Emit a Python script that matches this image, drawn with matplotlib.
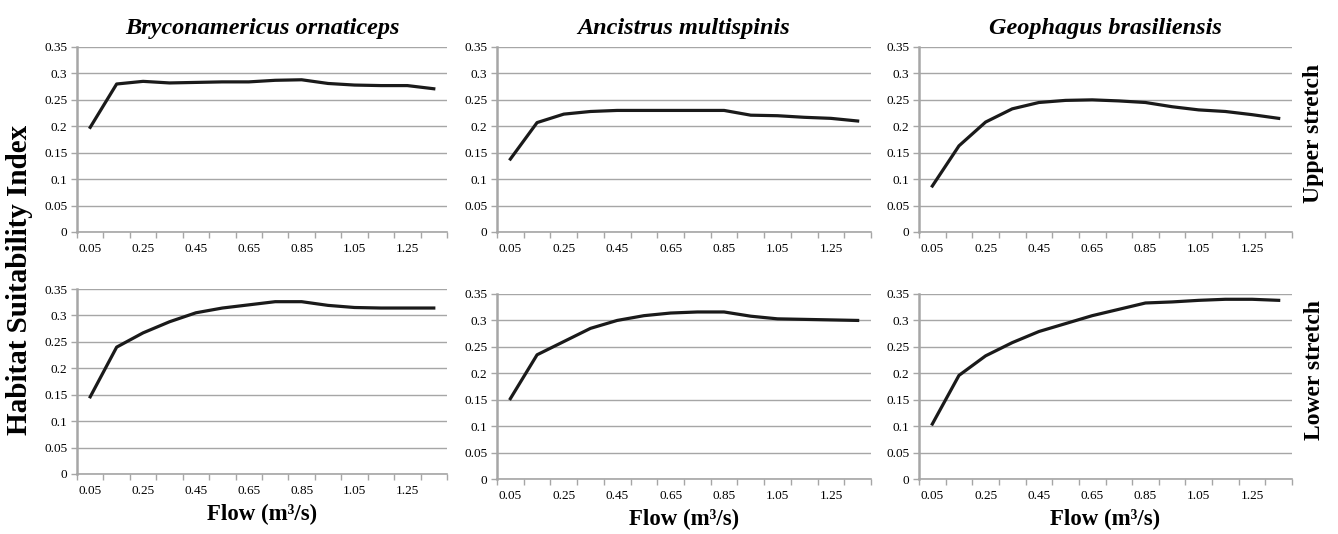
import matplotlib
matplotlib.use('Agg')
import matplotlib.pyplot as plt

plt.rcParams['font.family'] = ['Liberation Serif', 'DejaVu Serif']

flow = ['0.05', '0.15', '0.25', '0.35', '0.45', '0.55', '0.65',
        '0.75', '0.85', '0.95', '1.05', '1.15', '1.25', '1.35']
species = ['Bryconamericus ornaticeps', 'Ancistrus multispinis', 'Geophagus brasiliensis']

# upper stretch
bryc_up = [0.198, 0.280, 0.285, 0.282, 0.283, 0.284, 0.284,
           0.287, 0.288, 0.281, 0.278, 0.277, 0.277, 0.271]
anci_up = [0.138, 0.207, 0.223, 0.228, 0.230, 0.230, 0.230,
           0.230, 0.230, 0.221, 0.220, 0.217, 0.215, 0.210]
geop_up = [0.087, 0.163, 0.208, 0.233, 0.245, 0.249, 0.250,
           0.248, 0.245, 0.237, 0.231, 0.228, 0.222, 0.215]
# lower stretch
bryc_lo = [0.146, 0.240, 0.267, 0.288, 0.305, 0.314, 0.320,
           0.326, 0.326, 0.319, 0.315, 0.314, 0.314, 0.314]
anci_lo = [0.152, 0.235, 0.260, 0.285, 0.300, 0.309, 0.314,
           0.316, 0.316, 0.308, 0.303, 0.302, 0.301, 0.300]
geop_lo = [0.104, 0.196, 0.233, 0.258, 0.279, 0.294, 0.309,
           0.321, 0.333, 0.335, 0.338, 0.340, 0.340, 0.338]

rows = [[bryc_up, anci_up, geop_up], [bryc_lo, anci_lo, geop_lo]]

W, H = 1338, 534
fig = plt.figure(figsize=(W / 100, H / 100), dpi=100)

# pixel boxes (left, right, top, bottom) of each plot area
lefts = [77, 497, 919]
rights = [447, 871, 1292]
tops = [[47, 47, 47], [289, 294, 294]]
bottoms = [[232, 232, 232], [474, 479, 479]]

grey = '#a6a6a6'
yt = [0, 0.05, 0.1, 0.15, 0.2, 0.25, 0.3, 0.35]
yl = ['0', '0.05', '0.1', '0.15', '0.2', '0.25', '0.3', '0.35']

for r in range(2):
    for c in range(3):
        l, rr = lefts[c], rights[c]
        t, b = tops[r][c], bottoms[r][c]
        ax = fig.add_axes([l / W, 1 - b / H, (rr - l) / W, (b - t) / H])
        x = list(range(len(flow)))
        ax.plot(x, rows[r][c], color='#1a1a1a', lw=2.3, solid_joinstyle='round')
        ax.set_xlim(-0.5, len(flow) - 0.5)
        ax.set_ylim(0, 0.35)
        ax.set_yticks(yt)
        ax.set_yticklabels(yl)
        ax.set_xticks([i - 0.5 for i in range(len(flow) + 1)])
        ax.set_xticklabels([])
        ax.set_xticks(x[::2], minor=True)
        ax.set_xticklabels(flow[::2], minor=True)
        ax.tick_params(axis='x', which='minor', length=0, pad=8, labelsize=9.5)
        ax.tick_params(axis='x', which='major', length=4, color=grey, width=1)
        ax.tick_params(axis='y', length=4, color=grey, width=1, labelsize=9.5, pad=3)
        ax.yaxis.grid(True, color=grey, lw=1)
        ax.set_axisbelow(True)
        for s in ['top', 'right']:
            ax.spines[s].set_visible(False)
        ax.spines['left'].set_color(grey)
        ax.spines['left'].set_linewidth(1.8)
        ax.spines['bottom'].set_color(grey)
        ax.spines['bottom'].set_linewidth(1.2)
        if r == 0:
            ax.set_title(species[c], fontsize=17.5, fontweight='bold', style='italic', pad=9)
        else:
            ax.set_xlabel('Flow (m³/s)', fontsize=16.5, fontweight='bold', labelpad=5)

fig.text(20 / W, 1 - 280 / H, 'Habitat Suitability Index', rotation=90,
         fontsize=21, fontweight='bold', ha='center', va='center')
fig.text(1314 / W, 1 - 133 / H, 'Upper stretch', rotation=90,
         fontsize=17, fontweight='bold', ha='center', va='center')
fig.text(1314 / W, 1 - 370 / H, 'Lower stretch', rotation=90,
         fontsize=17, fontweight='bold', ha='center', va='center')

fig.savefig('out.png', dpi=100)
